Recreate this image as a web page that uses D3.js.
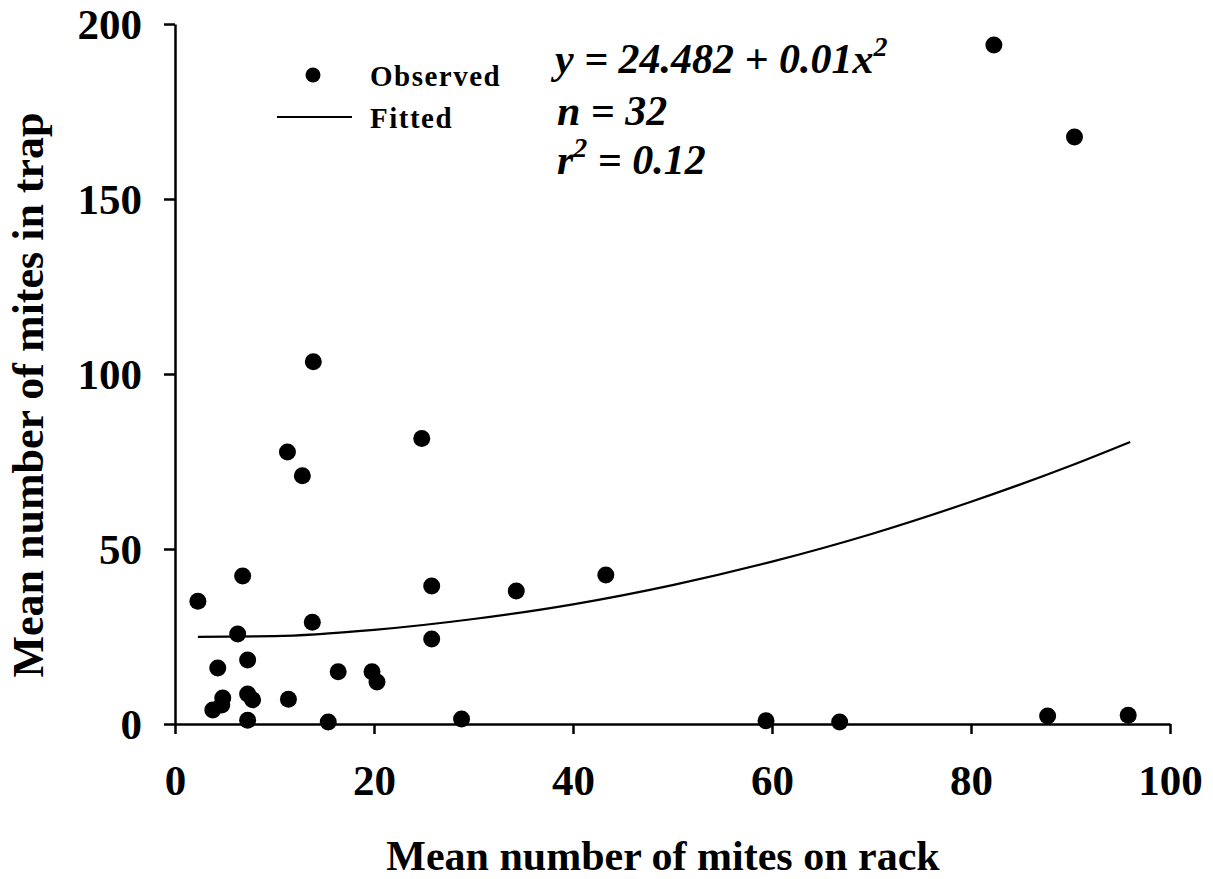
<!DOCTYPE html>
<html>
<head>
<meta charset="utf-8">
<script src="https://cdn.jsdelivr.net/npm/d3@7"></script>
<style>
  body { margin: 0; background: #fff; }
  text { font-family: "Liberation Serif", "Times New Roman", serif; font-weight: bold; fill: #000; }
</style>
</head>
<body>
<div id="chart"></div>
<script>
// observed points (mites on rack, mites in trap)
let rackMites = [2.3, 6.8, 6.3, 13.8, 4.3, 7.3, 16.4, 19.8, 20.3, 25.8, 25.8, 4.8, 4.7, 3.8, 7.3, 7.8,
                 11.4, 7.3, 15.4, 28.8, 13.9, 11.3, 12.8, 24.8, 34.3, 43.3, 59.4, 66.8, 87.7, 95.8, 82.3, 90.4];
let trapMites = [35.1, 42.3, 25.7, 29.1, 16.0, 18.3, 14.9, 14.9, 12.0, 39.4, 24.3, 7.4, 5.4, 4.0, 8.6, 6.9,
                 7.1, 1.1, 0.6, 1.4, 103.5, 77.7, 70.9, 81.6, 38.0, 42.6, 0.9, 0.6, 2.3, 2.5, 194.0, 167.7];

// fitted curve
let fitX = [2.3, 10, 20, 30, 40, 50, 60, 70, 80, 90, 96];
let fitY = [24.9, 25.1, 26.9, 30.0, 34.2, 39.7, 46.4, 54.3, 63.5, 73.8, 80.6];

let xTicks = [0, 20, 40, 60, 80, 100];
let yTicks = [0, 50, 100, 150, 200];

function chart(){

  let w = 1213;
  let h = 879;

  const xScale = d3.scaleLinear()
                 .domain([0, 100])
                 .range([175, 1170]);

  const yScale = d3.scaleLinear()
                 .domain([0, 200])
                 .range([724, 24]);

  const svg = d3.select("#chart")
                .append("svg")
                .attr("width", w)
                .attr("height", h);

  const xAxis = d3.axisBottom(xScale).tickValues(xTicks).tickSize(10).tickSizeOuter(0).tickPadding(30);
  const yAxis = d3.axisLeft(yScale).tickValues(yTicks).tickSize(11).tickSizeOuter(0).tickPadding(22);

  let gx = svg.append("g")
     .attr("transform", "translate(0, " + yScale(0) + ")")
     .call(xAxis);

  let gy = svg.append("g")
     .attr("transform", "translate(" + xScale(0) + ", 0)")
     .call(yAxis);

  [gx, gy].forEach(g => {
    g.selectAll("path, line").attr("stroke", "#000").attr("stroke-width", 2.5);
    g.selectAll("text").style("font-size", "43px").style("font-family", "Liberation Serif").style("font-weight", "bold");
  });
  gx.selectAll("text").attr("dy", "0.72em");
  gy.selectAll("text").attr("dy", "0.34em");

  // axis titles
  svg.append("text")
     .attr("x", 663)
     .attr("y", 870)
     .attr("text-anchor", "middle")
     .style("font-size", "42px")
     .text("Mean number of mites on rack");

  svg.append("text")
     .attr("transform", "translate(43, 395) rotate(-90)")
     .attr("text-anchor", "middle")
     .style("font-size", "44px")
     .text("Mean number of mites in trap");

  // fitted curve
  const line = d3.line()
                 .x((d, i) => xScale(fitX[i]))
                 .y(d => yScale(d))
                 .curve(d3.curveMonotoneX);

  svg.append("path")
     .datum(fitY)
     .attr("d", line)
     .attr("fill", "none")
     .attr("stroke", "#000")
     .attr("stroke-width", 2.2);

  // observed points
  svg.selectAll("circle.obs")
     .data(trapMites)
     .enter()
     .append("circle")
     .attr("class", "obs")
     .attr("cx", (d, i) => xScale(rackMites[i]))
     .attr("cy", d => yScale(d))
     .attr("r", 8.5)
     .attr("fill", "#000");

  // legend
  svg.append("circle").attr("cx", 313).attr("cy", 75).attr("r", 7.5).attr("fill", "#000");
  svg.append("text").attr("x", 370).attr("y", 86).style("font-size", "29px")
     .style("letter-spacing", "1.5px").text("Observed");
  svg.append("line").attr("x1", 277).attr("x2", 352).attr("y1", 117).attr("y2", 117)
     .attr("stroke", "#000").attr("stroke-width", 2.2);
  svg.append("text").attr("x", 370).attr("y", 128).style("font-size", "29px")
     .style("letter-spacing", "1.5px").text("Fitted");

  // equation block
  let eq = svg.append("g").style("font-style", "italic").style("font-size", "42px");
  let t1 = eq.append("text").attr("x", 555).attr("y", 73);
  t1.append("tspan").text("y = 24.482 + 0.01x");
  t1.append("tspan").attr("dy", -17).style("font-size", "28px").text("2");
  eq.append("text").attr("x", 557).attr("y", 125).text("n = 32");
  let t3 = eq.append("text").attr("x", 557).attr("y", 174);
  t3.append("tspan").text("r");
  t3.append("tspan").attr("dy", -17).style("font-size", "28px").text("2");
  t3.append("tspan").attr("dy", 17).text(" = 0.12");
}

chart();
</script>
</body>
</html>
